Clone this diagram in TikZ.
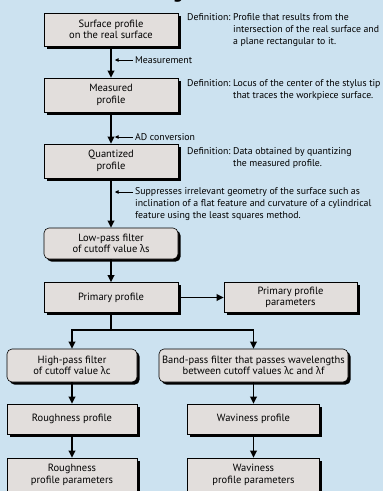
\documentclass[tikz,border=0pt]{standalone}
\usepackage{fontspec}
\setmainfont{PT Sans}
\newfontfamily\greekfont{Noto Sans}[FakeStretch=0.9]
\newcommand{\lam}{{\greekfont λ}}
\usetikzlibrary{arrows.meta, positioning, shadows}
\definecolor{mybg}{RGB}{204,226,240}
\definecolor{myfill}{RGB}{226,222,220}
\tikzset{
  flowbox/.style={rectangle, draw=black, fill=myfill, line width=0.6pt,
    align=center, minimum width=134pt, minimum height=33pt, inner sep=1pt,
    font=\fontsize{10.5}{11.5}\selectfont,
    drop shadow={shadow xshift=2.6pt, shadow yshift=-2.6pt, fill=black, opacity=1}},
  filterbox/.style={flowbox, rounded corners=5pt},
  arrow/.style={-{Triangle[length=7pt,width=6.5pt]}, line width=1.8pt},
  line/.style={line width=1.8pt},
  note/.style={font=\fontsize{9.8}{12}\selectfont, align=left, inner sep=0pt},
  pointer/.style={-{Triangle[length=3.5pt,width=3.5pt]}, line width=0.6pt}
}
\begin{document}
\begin{tikzpicture}[x=1pt, y=-1pt]
  \fill[mybg] (0,0) rectangle (383,491);
  \useasboundingbox (0,0) rectangle (383,491);
  \node[font=\bfseries\fontsize{18}{18}\selectfont, anchor=base] (title) at (178,-1.5) {g};

  % main chain
  \node[flowbox] (real) at (111,29.5) {Surface profile\\on the real surface};
  \node[flowbox, minimum height=34pt] (meas) at (111,95) {Measured\\profile};
  \node[flowbox, minimum height=34pt] (quant) at (111,161) {Quantized\\profile};
  \node[filterbox, minimum height=31pt] (lps) at (111,243.5) {Low-pass filter\\of cutoff value \lam s};
  \node[flowbox, minimum height=30pt] (prim) at (111,297.5) {Primary profile};
  \node[flowbox, minimum width=133pt, minimum height=30pt] (ppar) at (290.5,297.5) {Primary profile\\parameters};

  % two branches
  \node[filterbox, minimum width=130pt] (hpf) at (72,365.5) {High-pass filter\\of cutoff value \lam c};
  \node[filterbox, minimum width=189pt] (bpf) at (253.5,365.5) {Band-pass filter that passes wavelengths\\between cutoff values \lam c and \lam f};
  \node[flowbox, minimum width=130pt, minimum height=30pt] (rough) at (72,419) {Roughness profile};
  \node[flowbox, minimum width=132pt, minimum height=30pt] (wavy) at (253.5,419) {Waviness profile};
  \node[flowbox, minimum width=130pt, minimum height=34pt] (rpar) at (72,475) {Roughness\\profile parameters};
  \node[flowbox, minimum width=132pt, minimum height=34pt] (wpar) at (253.5,475) {Waviness\\profile parameters};

  % definitions
  \node[note, anchor=north west] (def1) at (187,11.5) {\begin{tabular}{@{}l@{\ }l@{}}Definition: & Profile that results from the\\ & intersection of the real surface and\\ & a plane rectangular to it.\end{tabular}};
  \node[note, anchor=north west] (def2) at (187,78) {\begin{tabular}{@{}l@{\ }l@{}}Definition: & Locus of the center of the stylus tip\\ & that traces the workpiece surface.\end{tabular}};
  \node[note, anchor=north west] (def3) at (187,146) {\begin{tabular}{@{}l@{\ }l@{}}Definition: & Data obtained by quantizing\\ & the measured profile.\end{tabular}};

  % side notes on the arrows
  \node[note, anchor=west] (step1) at (135,60) {Measurement};
  \node[note, anchor=west] (step2) at (135,137) {AD conversion};
  \node[note, anchor=north west] (step3) at (135,187) {Suppresses irrelevant geometry of the surface such as\\inclination of a flat feature and curvature of a cylindrical\\feature using the least squares method.};
  \coordinate (tip1) at (115,60);
  \coordinate (tip2) at (115,137);
  \coordinate (tip3) at (115,192);

  \draw[arrow] (real) -- (meas);
  \draw[arrow] (meas) -- (quant);
  \draw[arrow] (quant) -- (lps);
  \draw[arrow] (lps) -- (prim);
  \draw[arrow] (prim) -- (ppar);
  \coordinate (split) at (111,330);
  \draw[line] (prim.south) -- (split);
  \draw[arrow] (split) -| (hpf.north);
  \draw[arrow] (split) -| (bpf.north);
  \draw[arrow] (hpf) -- (rough);
  \draw[arrow] (bpf.south) -- (bpf.south |- wavy.north);
  \draw[arrow] (rough) -- (rpar);
  \draw[arrow] (wavy) -- (wpar);

  \draw[pointer] ([xshift=-2pt]step1.west) -- (tip1);
  \draw[pointer] ([xshift=-2pt]step2.west) -- (tip2);
  \draw[pointer] (step3.west |- tip3) ++(-2,0) -- (tip3);
\end{tikzpicture}
\end{document}
